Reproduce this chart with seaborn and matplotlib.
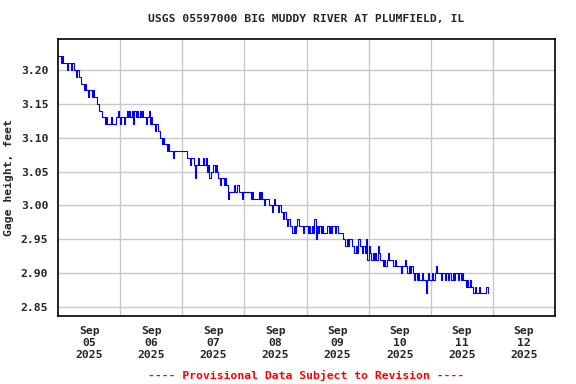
# USGS gage height chart - Big Muddy River at Plumfield

import pandas as pd
import matplotlib
matplotlib.use("Agg")
import matplotlib.pyplot as plt
import seaborn as sns

# Gage height readings every 30 minutes, in hundredths of a foot above 2.80 ft
sep05 = [42, 42, 41, 42, 41, 41, 41, 40, 41, 41, 40, 41, 40, 40, 39, 40,
         39, 39, 38, 38, 37, 38, 37, 36, 37, 37, 36, 37, 36, 36, 35, 35,
         34, 34, 33, 33, 32, 33, 32, 32, 32, 33, 32, 32, 32, 33, 34, 33]
sep06 = [32, 33, 33, 32, 33, 34, 33, 34, 33, 34, 32, 34, 33, 34, 33, 34,
         33, 34, 33, 33, 32, 33, 34, 32, 33, 32, 32, 31, 32, 31, 31, 30,
         29, 30, 29, 29, 28, 29, 28, 28, 28, 27, 28, 28, 28, 28, 28, 28]
sep07 = [28, 28, 28, 28, 27, 27, 26, 27, 27, 26, 24, 26, 27, 26, 26, 26,
         27, 26, 27, 25, 26, 24, 25, 25, 26, 25, 26, 25, 24, 23, 24, 24,
         23, 24, 23, 21, 22, 22, 22, 22, 23, 22, 23, 23, 22, 22, 21, 22]
sep08 = [22, 22, 22, 22, 22, 21, 22, 21, 21, 21, 21, 22, 21, 22, 21, 20,
         21, 21, 21, 20, 20, 19, 20, 21, 20, 20, 19, 20, 19, 19, 18, 19,
         18, 17, 18, 17, 17, 16, 17, 16, 17, 18, 17, 17, 17, 16, 17, 17]
sep09 = [17, 16, 17, 16, 17, 16, 18, 15, 17, 16, 17, 16, 17, 16, 16, 16,
         17, 16, 17, 16, 17, 17, 16, 17, 16, 16, 16, 16, 15, 15, 14, 15,
         14, 15, 15, 14, 14, 13, 14, 13, 15, 14, 14, 13, 14, 13, 15, 12]
sep10 = [14, 13, 12, 13, 12, 13, 12, 14, 13, 12, 12, 11, 12, 11, 12, 13,
         12, 12, 12, 11, 12, 11, 11, 11, 11, 10, 11, 11, 12, 11, 10, 11,
         10, 11, 10, 9, 10, 9, 10, 9, 9, 10, 9, 9, 7, 9, 10, 9]
sep11 = [9, 10, 9, 10, 11, 10, 10, 10, 9, 10, 10, 9, 10, 9, 10, 10,
         9, 10, 9, 10, 10, 9, 10, 9, 10, 9, 9, 8, 9, 8, 9, 8,
         8, 7, 8, 7, 7, 8, 7, 7, 7, 7, 7, 8, 7]

day_labels = ["Sep\n05\n2025", "Sep\n06\n2025", "Sep\n07\n2025", "Sep\n08\n2025",
              "Sep\n09\n2025", "Sep\n10\n2025", "Sep\n11\n2025", "Sep\n12\n2025"]
y_ticks = [2.85, 2.90, 2.95, 3.00, 3.05, 3.10, 3.15, 3.20]

readings = sep05 + sep06 + sep07 + sep08 + sep09 + sep10 + sep11
df = pd.DataFrame({
    "time": pd.date_range("2025-09-05 00:00", periods=len(readings), freq="30min"),
    "height": [2.80 + r / 100 for r in readings],
})

sns.set_style("white")
plt.rcParams["font.family"] = ["DejaVu Sans Mono"]
plt.rcParams["font.weight"] = "bold"

fig = plt.figure(figsize=(5.76, 3.84), dpi=100)
ax = fig.add_axes([58 / 576, 1 - 316 / 384, 497 / 576, 277 / 384])

sns.lineplot(data=df, x="time", y="height", color="#0000ff", lw=0.8,
             drawstyle="steps-post", estimator=None, ax=ax)

# x axis: grid at midnight, labels at noon
start = pd.Timestamp("2025-09-05")
ax.set_xlim(start, start + pd.Timedelta(days=8))
ax.set_xticks([start + pd.Timedelta(days=i, hours=12) for i in range(8)])
ax.set_xticklabels(day_labels, fontsize=8.2, fontweight="bold", linespacing=1.25)
ax.set_xticks([start + pd.Timedelta(days=i) for i in range(1, 8)], minor=True)

ax.set_ylim(2.8367, 3.2458)
ax.set_yticks(y_ticks)
ax.set_yticklabels([f"{v:.2f}" for v in y_ticks], fontsize=8.2, fontweight="bold")

ax.grid(False)
ax.grid(True, which="minor", axis="x", color="#c8c8c8", lw=1.0)
ax.grid(True, which="major", axis="y", color="#c8c8c8", lw=1.0)
ax.tick_params(axis="both", which="both", length=0, pad=7)
for s in ax.spines.values():
    s.set_color("black")
    s.set_linewidth(1.2)

ax.set_xlabel("")
ax.set_ylabel("Gage height, feet", fontsize=8.2, fontweight="bold", labelpad=5)
ax.set_title("USGS 05597000 BIG MUDDY RIVER AT PLUMFIELD, IL",
             fontsize=8.2, fontweight="bold", pad=12)
fig.text(306.5 / 576, 1 - 375 / 384, "---- Provisional Data Subject to Revision ----",
         color="red", fontsize=8.2, fontweight="bold", ha="center", va="center")

fig.savefig("out.png", dpi=100, facecolor="white")
